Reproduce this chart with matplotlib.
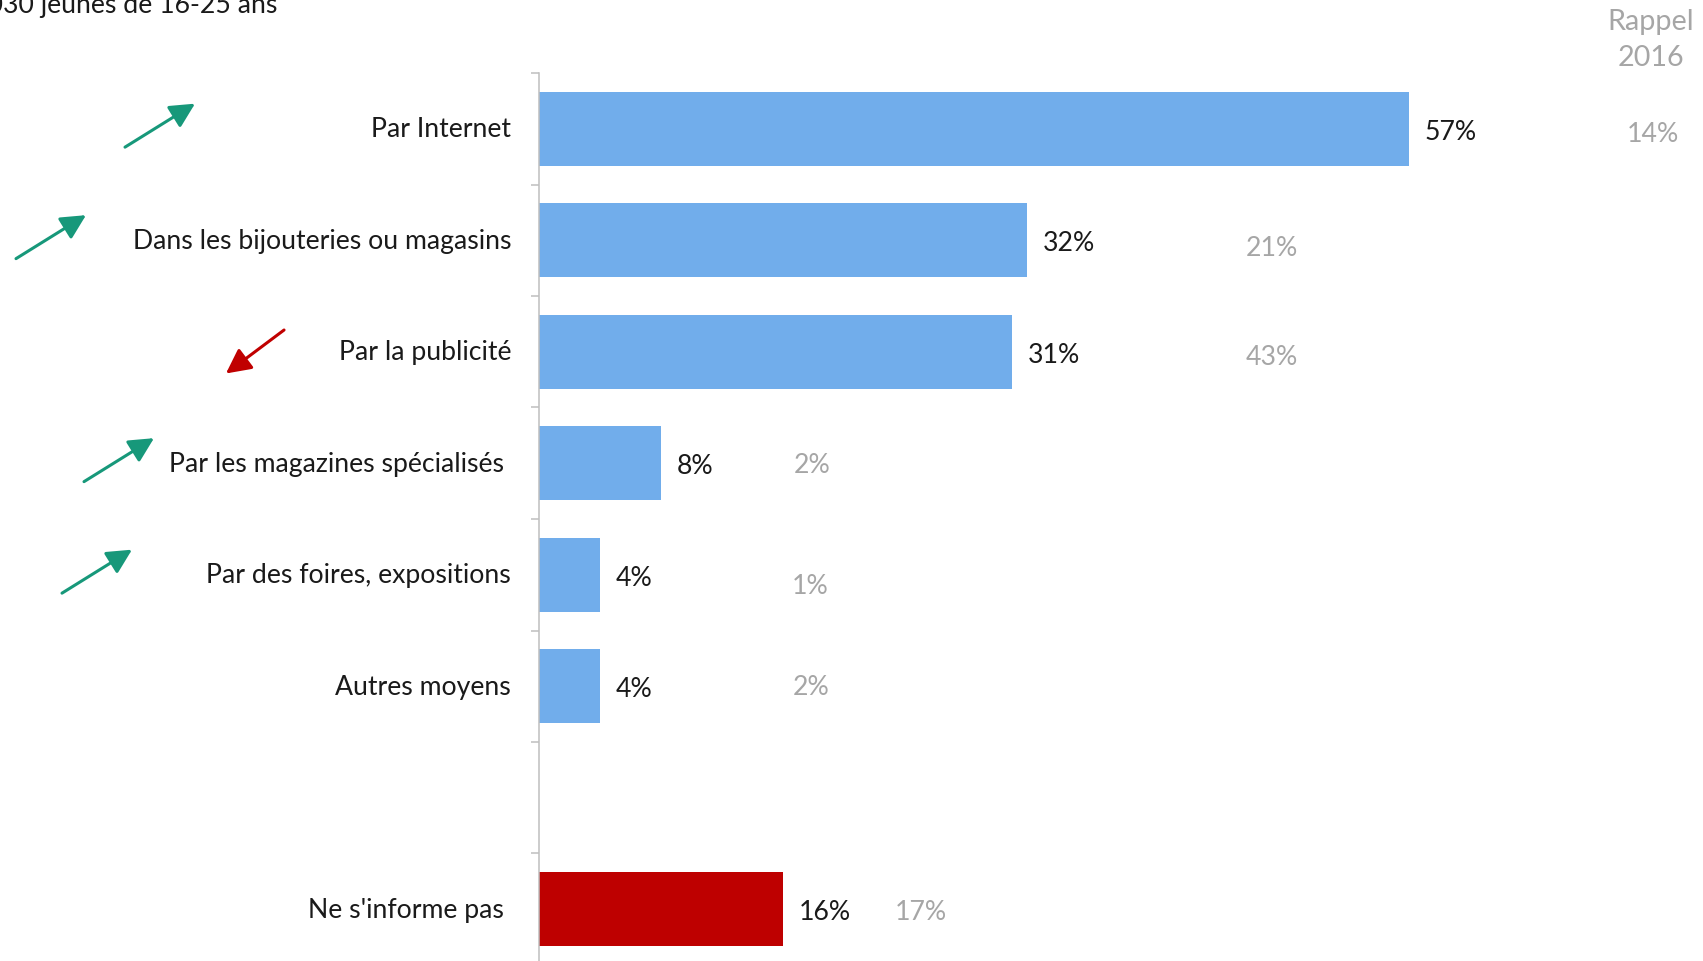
import matplotlib
matplotlib.use("Agg")
import numpy as np
import matplotlib.pyplot as plt
from matplotlib.transforms import blended_transform_factory

# --- data -------------------------------------------------------------
categories = ["Par Internet", "Dans les bijouteries ou magasins", "Par la publicité",
              "Par les magazines spécialisés ", "Par des foires, expositions",
              "Autres moyens", "Ne s'informe pas "]
values_current = [57, 32, 31, 8, 4, 4, 16]
values_2016 = [14, 21, 43, 2, 1, 2, 17]
trends = ["up", "up", "down", "up", "up", None, None]

# --- layout / style ---------------------------------------------------
slots = [0, 1, 2, 3, 4, 5, 7]                  # row 6 is left empty
bar_colors = ["#71ADEB"] * 6 + ["#BE0000"]
rappel_x = [73.0, 48.0, 48.0, 17.9, 17.8, 17.8, 25.0]   # column of the 2016 reminder
rappel_dy = [0.02, 0.04, 0.02, -0.01, 0.07, -0.02, 0.0]
arrow_xc = [160, 51, 255, 119, 97]                       # arrow centres, figure px
GREEN, RED, GREY = "#17987A", "#C00000", "#A6A6A6"
FONT = "Lato"
FS = 19.2

W, H = 1703, 962
fig = plt.figure(figsize=(W / 100, H / 100), dpi=100)
plt.rcParams["font.family"] = [FONT, "DejaVu Sans"]

ax_left, ax_top, ax_bottom = 539, 74, 966
ax = fig.add_axes([ax_left / W, 1 - ax_bottom / H, 1 - ax_left / W, (ax_bottom - ax_top) / H])
px_per_pct = 15.26
ax.set_xlim(0, (W - ax_left) / px_per_pct)
ax.set_ylim(7.5, -0.5)

ax.barh(slots, values_current, height=0.66, color=bar_colors, linewidth=0)

for s, v in zip(slots, values_current):
    ax.annotate(f"{v}%", (v, s), xytext=(11.5, 0), textcoords="offset points",
                ha="left", va="center_baseline", fontsize=FS, color="#1A1A1A")

for s, v, x, dy in zip(slots, values_2016, rappel_x, rappel_dy):
    ax.text(x, s + dy, f"{v}%", ha="center", va="center_baseline", fontsize=FS, color=GREY)

# axis: left spine with boundary ticks, labels centred on rows
for side in ("top", "right", "bottom"):
    ax.spines[side].set_visible(False)
ax.spines["left"].set_color("#BFBFBF")
ax.spines["left"].set_linewidth(1.1)
ax.set_xticks([])
ax.set_yticks(slots)
ax.set_yticklabels(categories, fontsize=FS, color="#1A1A1A", va="center")
ax.tick_params(axis="y", which="major", length=0, pad=20)
ax.set_yticks(np.arange(-0.5, 8, 1), minor=True)
ax.tick_params(axis="y", which="minor", length=6, width=1.1, color="#BFBFBF")
ax.set_facecolor("none")

# trend arrows beside the labels
trans = blended_transform_factory(fig.transFigure, ax.transData)
dx, dy = 70 / W, 0.195
for s, t, xc in zip(slots, trends, arrow_xc):
    if t is None:
        continue
    xc = xc / W
    if t == "up":
        start, end, col = (xc - dx / 2, s + dy - 0.03), (xc + dx / 2, s - dy - 0.03), GREEN
    else:
        start, end, col = (xc + dx / 2 * 0.83, s - dy), (xc - dx / 2 * 0.83, s + dy), RED
    ax.annotate("", xy=end, xycoords=trans, xytext=start, textcoords=trans,
                arrowprops=dict(arrowstyle="-|>,head_length=0.75,head_width=0.38",
                                mutation_scale=20, lw=2.2, color=col,
                                shrinkA=0, shrinkB=0),
                annotation_clip=False)

# header texts
fig.text(277 / W, 1 - 13 / H, "Base : 1 030 jeunes de 16-25 ans", ha="right",
         va="baseline", fontsize=FS, color="#1A1A1A")
fig.text(1651 / W, 1 - 40 / H, "Rappel\n2016", ha="center", va="center",
         fontsize=FS + 1.5, color=GREY, linespacing=1.45)

fig.savefig("out.png", dpi=100)
